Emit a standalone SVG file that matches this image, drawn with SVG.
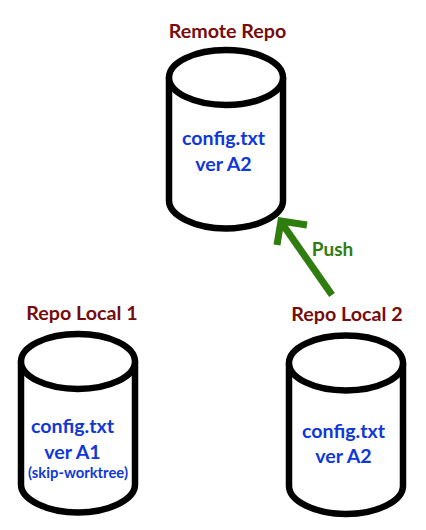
<svg xmlns="http://www.w3.org/2000/svg" width="426" height="530" viewBox="0 0 426 530">
<style>
text{font-family:Lato,"Open Sans",sans-serif;font-weight:700;text-anchor:middle}
.title{font-size:19.7px;fill:#760c0c}
.file{font-size:19.6px;fill:#1038d8}
.small{font-size:14.8px;fill:#1038d8}
.cyl{fill:#fff;stroke:#000;stroke-width:6.5}
.push{font-size:19px;fill:#2e7d0e}
.arrow{fill:none;stroke:#2e7d0e;stroke-width:7}
</style>
<defs>
<g id="cyl">
<path class="cyl" d="M-57 0V123C-57 138 -31 151 0 151S57 138 57 123V0"/>
<ellipse class="cyl" cx="0" cy="0" rx="57" ry="27.5"/>
</g>
</defs>
<rect width="426" height="530" fill="#fff"/>
<g id="remote">
<use href="#cyl" x="226" y="77.5"/>
<text class="title" x="227.5" y="38">Remote Repo</text>
<text class="file" x="223.5" y="145">config.txt</text>
<text class="file" x="223.5" y="171">ver A2</text>
</g>
<g id="local1">
<use href="#cyl" x="78" y="361.5"/>
<text class="title" x="82" y="320">Repo Local 1</text>
<text class="file" x="72.5" y="433">config.txt</text>
<text class="file" x="72.5" y="459">ver A1</text>
<text class="small" x="78" y="478">(skip-worktree)</text>
</g>
<g id="local2">
<use href="#cyl" x="346" y="363"/>
<text class="title" x="347" y="321">Repo Local 2</text>
<text class="file" x="343.5" y="438">config.txt</text>
<text class="file" x="343.5" y="463">ver A2</text>
</g>
<g id="connectors">
<path class="arrow" d="M332 295L281 222"/>
<path class="arrow" d="M307 225L281 221L277 245"/>
<text class="push" x="332.5" y="256">Push</text>
</g>
</svg>
